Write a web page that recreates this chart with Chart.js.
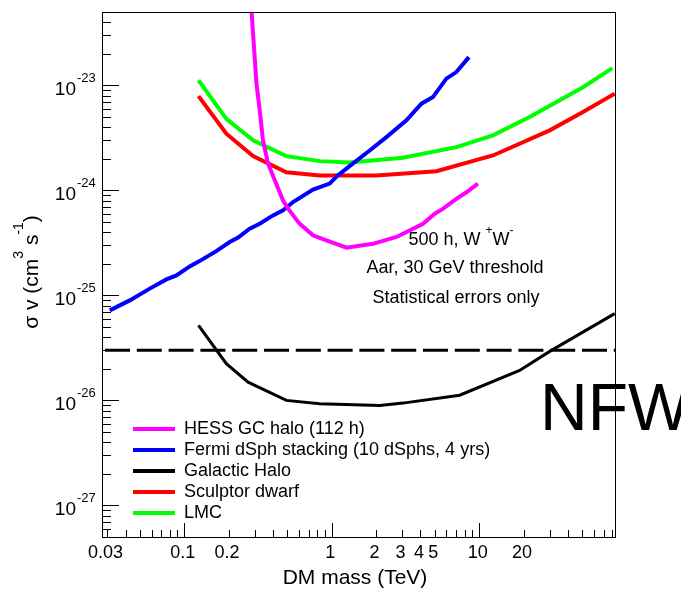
<!DOCTYPE html>
<html>
<head>
<meta charset="utf-8">
<script src="https://cdn.jsdelivr.net/npm/chart.js@4"></script>
<style>
  html, body { margin: 0; padding: 0; background: #fff; }
  #wrap { width: 681px; height: 592px; }
</style>
</head>
<body>
<div id="wrap"><canvas id="chart" width="681" height="592"></canvas></div>
<script>
// DM mass in TeV, <sigma v> in cm^3 s^-1
const hessMass = [0.28, 0.293, 0.309, 0.325, 0.342, 0.370, 0.411, 0.468, 0.506, 0.607, 0.747, 0.921, 1.26, 1.9, 2.75, 4.16, 5.0, 5.7, 7.0, 8.2, 9.8];
const hessSigmaV = [8e-23, 3.1e-23, 1.04e-23, 5.8e-24, 3.0e-24, 1.81e-24, 1.25e-24, 8.0e-25, 6.7e-25, 4.8e-25, 3.73e-25, 3.34e-25, 2.85e-25, 3.1e-25, 3.6e-25, 4.8e-25, 6.0e-25, 6.7e-25, 8.3e-25, 9.6e-25, 1.16e-24];

const fermiMass = [0.0313, 0.0427, 0.0584, 0.0757, 0.0885, 0.109, 0.127, 0.165, 0.2035, 0.232, 0.278, 0.325, 0.400, 0.468, 0.547, 0.747, 0.969, 1.1, 1.39, 1.81, 2.35, 3.21, 4.06, 4.86, 5.99, 7.0, 8.53];
const fermiSigmaV = [7.2e-26, 8.96e-26, 1.16e-25, 1.42e-25, 1.55e-25, 1.89e-25, 2.12e-25, 2.64e-25, 3.22e-25, 3.55e-25, 4.32e-25, 4.82e-25, 5.78e-25, 6.45e-25, 7.74e-25, 1.02e-24, 1.16e-24, 1.39e-24, 1.80e-24, 2.40e-24, 3.22e-24, 4.64e-24, 6.70e-24, 7.74e-24, 1.16e-23, 1.34e-23, 1.86e-23];

const haloMass = [0.125, 0.193, 0.271, 0.493, 0.829, 2.12, 3.04, 7.38, 18.8, 30.1, 83];
const haloSigmaV = [5.18e-26, 2.24e-26, 1.49e-26, 1.0e-26, 9.3e-27, 8.96e-27, 9.42e-27, 1.12e-26, 1.93e-26, 2.93e-26, 6.70e-26];

const sculptorMass = [0.125, 0.193, 0.293, 0.493, 0.829, 2.01, 5.13, 12.4, 30.1, 50.6, 83];
const sculptorSigmaV = [7.9e-24, 3.47e-24, 2.12e-24, 1.49e-24, 1.39e-24, 1.39e-24, 1.52e-24, 2.15e-24, 3.73e-24, 5.57e-24, 8.34e-24];

const lmcMass = [0.125, 0.193, 0.293, 0.493, 0.829, 1.33, 3.04, 7.0, 12.4, 22.0, 50.6, 80];
const lmcSigmaV = [1.12e-23, 4.8e-24, 3.0e-24, 2.12e-24, 1.90e-24, 1.84e-24, 2.05e-24, 2.58e-24, 3.34e-24, 5.0e-24, 9.6e-24, 1.46e-23];

// thermal relic cross section
const relicSigmaV = 3e-26;

const massRange = [0.0277, 83.4];
const sigmaRange = [5e-28, 5e-23];
const massTickLabels = [0.03, 0.1, 0.2, 1, 2, 3, 4, 5, 10, 20];
const sigmaDecades = [-27, -26, -25, -24, -23];

const FONT = "'Liberation Sans', Arial, Helvetica, sans-serif";

function curve(label, color, mass, sigma, width) {
    return {
        label: label,
        borderColor: color,
        backgroundColor: color,
        data: mass.map((m, i) => ({ x: m, y: sigma[i] })),
        borderWidth: width,
        pointRadius: 0,
        tension: 0,
        fill: false,
        clip: 0
    };
}

// text with superscripts: parts = [[text, isSup], ...]
function drawRich(ctx, parts, x, y, align, size, supSize, raise) {
    const widths = parts.map(([t, sup]) => {
        ctx.font = (sup ? supSize : size) + 'px ' + FONT;
        return ctx.measureText(t).width;
    });
    const total = widths.reduce((a, b) => a + b, 0);
    let cx = align === 'center' ? x - total / 2 : (align === 'right' ? x - total : x);
    ctx.textAlign = 'left';
    ctx.textBaseline = 'alphabetic';
    parts.forEach(([t, sup], i) => {
        ctx.font = (sup ? supSize : size) + 'px ' + FONT;
        ctx.fillText(t, cx, sup ? y - raise : y);
        cx += widths[i];
    });
}

const rootAxes = {
    id: 'rootAxes',
    beforeDatasetsDraw(chart) {
        const { ctx, chartArea: a, scales: { x, y } } = chart;
        ctx.save();
        ctx.strokeStyle = '#000';
        ctx.lineWidth = 1;
        ctx.beginPath();
        for (let e = -2; e <= 1; e++) {
            for (let m = 1; m <= 9; m++) {
                const v = m * Math.pow(10, e);
                if (v < massRange[0] || v > massRange[1]) continue;
                const px = Math.round(x.getPixelForValue(v)) + 0.5;
                const len = m === 1 ? 14 : 7;
                ctx.moveTo(px, a.bottom);
                ctx.lineTo(px, a.bottom - len);
            }
        }
        for (let e = -28; e <= -23; e++) {
            for (let m = 1; m <= 9; m++) {
                const v = m * Math.pow(10, e);
                if (v < sigmaRange[0] || v > sigmaRange[1]) continue;
                const py = Math.round(y.getPixelForValue(v)) + 0.5;
                const len = m === 1 ? 17 : 9;
                ctx.moveTo(a.left, py);
                ctx.lineTo(a.left + len, py);
            }
        }
        ctx.stroke();
        ctx.restore();
    },
    afterDraw(chart) {
        const { ctx, chartArea: a, scales: { x, y } } = chart;
        ctx.save();
        ctx.strokeStyle = '#000';
        ctx.lineWidth = 1;
        ctx.strokeRect(a.left + 0.5, a.top + 0.5, a.right - a.left, a.bottom - a.top);

        ctx.fillStyle = '#000';
        // x tick labels
        ctx.font = '18px ' + FONT;
        ctx.textAlign = 'center';
        ctx.textBaseline = 'alphabetic';
        massTickLabels.forEach(v => {
            ctx.fillText(String(v), x.getPixelForValue(v) - 1.5, a.bottom + 21);
        });

        // y tick labels 10^n
        sigmaDecades.forEach(e => {
            const py = y.getPixelForValue(Math.pow(10, e));
            ctx.font = '19px ' + FONT;
            ctx.textAlign = 'right';
            ctx.fillText('10', 76, py + 10);
            ctx.font = '13px ' + FONT;
            ctx.textAlign = 'left';
            ctx.fillText('-' + (-e), 77, py - 3.5);
        });

        // axis titles
        ctx.font = '21px ' + FONT;
        ctx.textAlign = 'center';
        ctx.fillText('DM mass (TeV)', 355, 584);

        ctx.save();
        ctx.translate(37.5, 272);
        ctx.rotate(-Math.PI / 2);
        drawRich(ctx, [['σ v (cm', false], ['3', true], [' s', false], ['-1', true], [')', false]], 0, 0, 'center', 21, 14, 15);
        ctx.restore();

        // legend
        const rows = [434, 455, 476, 497, 518];
        chart.data.datasets.slice(0, 5).forEach((ds, i) => {
            ctx.strokeStyle = ds.borderColor;
            ctx.lineWidth = 4;
            ctx.beginPath();
            ctx.moveTo(133, rows[i] - 5);
            ctx.lineTo(175, rows[i] - 5);
            ctx.stroke();
            ctx.font = '18px ' + FONT;
            ctx.textAlign = 'left';
            ctx.fillText(ds.label, 184, rows[i]);
        });

        // annotations
        drawRich(ctx, [['500 h, W ', false], ['+', true], ['W', false], ['-', true]], 461, 245, 'center', 18, 12, 11);
        ctx.font = '18px ' + FONT;
        ctx.textAlign = 'center';
        ctx.fillText('Aar, 30 GeV threshold', 455, 273);
        ctx.fillText('Statistical errors only', 456, 303);

        ctx.font = '66px ' + FONT;
        ctx.textAlign = 'left';
        ctx.fillText('NFW', 540, 430);
        ctx.restore();
    }
};

const relicLine = {
    label: 'relic',
    data: massRange.map(m => ({ x: m, y: relicSigmaV })),
    borderColor: '#000',
    borderWidth: 3,
    borderDash: [25, 6.8],
    borderDashOffset: 28.8,
    pointRadius: 0,
    clip: 0
};

new Chart(document.getElementById('chart'), {
    type: 'line',
    data: {
        datasets: [
            curve('HESS GC halo (112 h)', '#ff00ff', hessMass, hessSigmaV, 4),
            curve('Fermi dSph stacking (10 dSphs, 4 yrs)', '#0000ff', fermiMass, fermiSigmaV, 4),
            curve('Galactic Halo', '#000000', haloMass, haloSigmaV, 3),
            curve('Sculptor dwarf', '#ff0000', sculptorMass, sculptorSigmaV, 4),
            curve('LMC', '#00ff00', lmcMass, lmcSigmaV, 4),
            relicLine
        ]
    },
    options: {
        responsive: false,
        animation: false,
        layout: { padding: { top: 12, right: 66, left: 0, bottom: 0 } },
        plugins: {
            legend: { display: false },
            tooltip: { enabled: false }
        },
        scales: {
            x: {
                type: 'logarithmic',
                min: massRange[0],
                max: massRange[1],
                ticks: { display: false },
                grid: { display: false },
                border: { display: false },
                afterFit: s => { s.height = 55; }
            },
            y: {
                type: 'logarithmic',
                min: sigmaRange[0],
                max: sigmaRange[1],
                ticks: { display: false },
                grid: { display: false },
                border: { display: false },
                afterFit: s => { s.width = 102; }
            }
        }
    },
    plugins: [rootAxes]
});
</script>
</body>
</html>
